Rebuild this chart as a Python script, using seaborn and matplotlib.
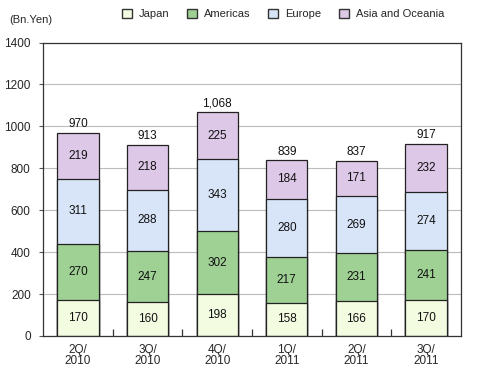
import numpy as np
import pandas as pd
import matplotlib
matplotlib.use("Agg")
import matplotlib.pyplot as plt
from matplotlib.patches import Patch
import seaborn as sns

quarters = ["2Q/\n2010", "3Q/\n2010", "4Q/\n2010", "1Q/\n2011", "2Q/\n2011", "3Q/\n2011"]
japan = [170, 160, 198, 158, 166, 170]
americas = [270, 247, 302, 217, 231, 241]
europe = [311, 288, 343, 280, 269, 274]
asia = [219, 218, 225, 184, 171, 232]
totals = ["970", "913", "1,068", "839", "837", "917"]

regions = ["Japan", "Americas", "Europe", "Asia and Oceania"]
colors = ["#f3fbe1", "#9fd094", "#d8e5f8", "#ddc8e7"]

sns.set_style("white")
plt.rcParams["font.family"] = ["Liberation Sans", "DejaVu Sans"]

df = pd.DataFrame({"quarter": quarters, "Japan": japan, "Americas": americas,
                   "Europe": europe, "Asia and Oceania": asia})
layers = [japan, americas, europe, asia]
cum = np.cumsum(np.array(layers), axis=0)

fig = plt.figure(figsize=(4.8, 3.7), dpi=100)
ax = fig.add_axes([0.09, 0.092, 0.87, 0.793])

# draw from the top layer down so each shorter bar covers the one behind
for i in range(3, -1, -1):
    sns.barplot(x=df["quarter"], y=cum[i], color=colors[i], width=0.59,
                edgecolor="#222222", linewidth=0.9, ax=ax, saturation=1)

for i in range(4):
    mids = cum[i] - np.array(layers[i]) / 2
    for x, (m, v) in enumerate(zip(mids, layers[i])):
        ax.text(x, m, str(v), ha="center", va="center", fontsize=8.5, color="#111111")

for x, t in enumerate(totals):
    ax.text(x, cum[3][x] + 12, t, ha="center", va="bottom", fontsize=8.5, color="#111111")

ax.set_ylim(0, 1400)
ax.set_xlim(-0.5, 5.5)
ax.set_yticks(range(0, 1401, 200))
ax.yaxis.grid(True, color="#bbbbbb", linewidth=0.8)
ax.set_axisbelow(True)
ax.set_xlabel("")
ax.set_ylabel("")
ax.set_xticks(np.arange(6))
ax.set_xticklabels(quarters, fontsize=8.5, linespacing=0.85)
ax.tick_params(axis="x", which="major", bottom=True, length=0, pad=6)
ax.set_xticks(np.arange(0.5, 5, 1), minor=True)
ax.tick_params(axis="x", which="minor", bottom=True, direction="in", length=5, width=0.9, color="#333333")
ax.tick_params(axis="y", left=True, direction="out", length=3, labelsize=8.5, color="#555555", pad=6)
for s in ax.spines.values():
    s.set_color("#333333")
    s.set_linewidth(0.9)

fig.text(0.02, 0.945, "(Bn.Yen)", fontsize=8, va="center")
handles = [Patch(facecolor=c, edgecolor="#333333", label=r) for c, r in zip(colors, regions)]
fig.legend(handles=handles, loc="center", bbox_to_anchor=(0.59, 0.962), ncol=4, frameon=False,
           fontsize=8, handlelength=0.9, handleheight=0.9, columnspacing=1.6, handletextpad=0.6)

fig.savefig("out.png", dpi=100)
